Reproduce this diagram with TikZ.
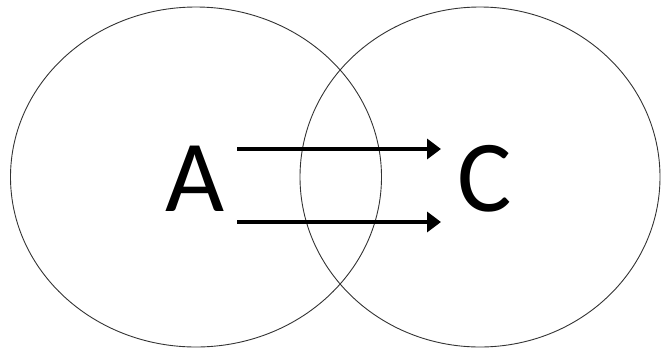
\documentclass[tikz,border=0pt]{standalone}
\usepackage{fontspec}
\setmainfont{Carlito}
\usetikzlibrary{
	arrows.meta,
	shapes.geometric
}

\begin{document}
\begin{tikzpicture}[
				x=1pt, y=-1pt,
				set/.style={ellipse, draw=black!80, line width=0.9pt, inner sep=0pt},
				letter/.style={font=\fontsize{102}{102}\selectfont, inner sep=0pt},
				flow/.style={line width=3.6pt, -{Triangle[length=14pt, width=20pt]}}
			]
				\useasboundingbox (0,0) rectangle (662,349);
				% 两个集合
				\node[set, minimum width=371pt, minimum height=340pt] (leftset)  at (196,177) {};
				\node[set, minimum width=360pt, minimum height=340pt] (rightset) at (480,177) {};
				% 字母
				\node[letter] (a) at (195,179) {A};
				\node[letter] (c) at (485,179) {C};
				% 节点
				\coordinate (a-top)    at (237,149);
				\coordinate (a-bottom) at (237,222);
				\coordinate (c-top)    at (441,149);
				\coordinate (c-bottom) at (441,222);
				% 箭头
				\draw[flow] (a-top)    -- (c-top);
				\draw[flow] (a-bottom) -- (c-bottom);
			\end{tikzpicture}
\end{document}
